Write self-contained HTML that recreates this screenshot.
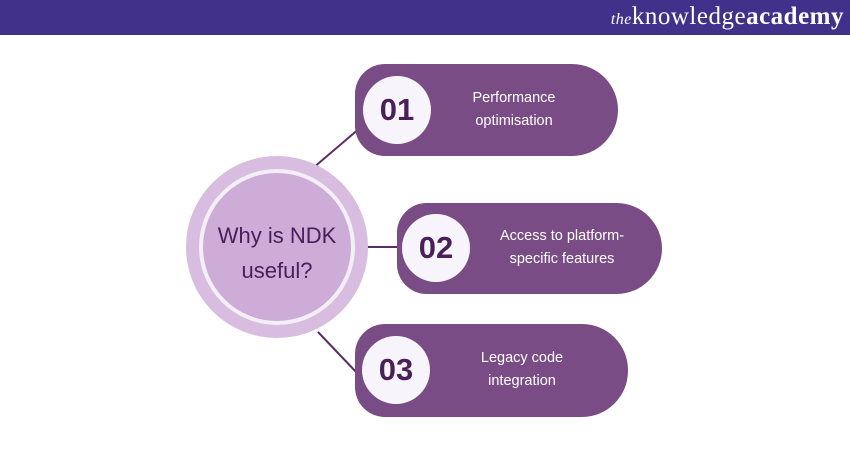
<!DOCTYPE html>
<html><head><style>
body{margin:0;width:850px;height:450px;background:#fff;position:relative;overflow:hidden;font-family:"Liberation Sans",sans-serif}
.hdr{position:absolute;left:0;top:0;width:850px;height:35px;background:#41318a}
.logo{position:absolute;right:6px;top:3px;color:#fff;font-family:"Liberation Serif",serif;font-size:25px;letter-spacing:0.5px}
.logo i{font-size:16px}
.pill{position:absolute;background:#7a4c85;border-radius:30px 46px 46px 30px}
.num{position:absolute;width:68px;height:68px;border-radius:50%;background:#f7f5fb;color:#4a1f5a;font-weight:bold;font-size:31px;line-height:68px;text-align:center}
.txt{position:absolute;color:#fff;font-size:14.5px;line-height:23px;text-align:center}
</style></head><body>
<div class="hdr"><div class="logo"><i>the</i>knowledge<b>academy</b></div></div>
<svg width="850" height="450" style="position:absolute;left:0;top:0">
<line x1="313" y1="168" x2="360" y2="128" stroke="#5a2d66" stroke-width="2"/>
<line x1="360" y1="247" x2="400" y2="247" stroke="#5a2d66" stroke-width="2"/>
<line x1="318" y1="332" x2="358" y2="374" stroke="#5a2d66" stroke-width="2"/>
<circle cx="277" cy="247" r="91" fill="#d8bde0"/>
<circle cx="277" cy="247" r="76" fill="#cdadd7" stroke="#f4eef7" stroke-width="4"/>
<text x="277" y="243" text-anchor="middle" font-family="Liberation Sans" font-size="22" fill="#4b1d5c">Why is NDK</text>
<text x="277" y="278" text-anchor="middle" font-family="Liberation Sans" font-size="22" fill="#4b1d5c">useful?</text>
</svg>
<div class="pill" style="left:355px;top:64px;width:263px;height:92px"></div>
<div class="num" style="left:363px;top:76px">01</div>
<div class="txt" style="left:434px;top:87px;width:160px">Performance<br>optimisation</div>
<div class="pill" style="left:397px;top:203px;width:265px;height:91px"></div>
<div class="num" style="left:402px;top:214px">02</div>
<div class="txt" style="left:472px;top:225px;width:180px">Access to platform-<br>specific features</div>
<div class="pill" style="left:355px;top:324px;width:273px;height:93px"></div>
<div class="num" style="left:362px;top:336px">03</div>
<div class="txt" style="left:442px;top:347px;width:160px">Legacy code<br>integration</div>
</body></html>
